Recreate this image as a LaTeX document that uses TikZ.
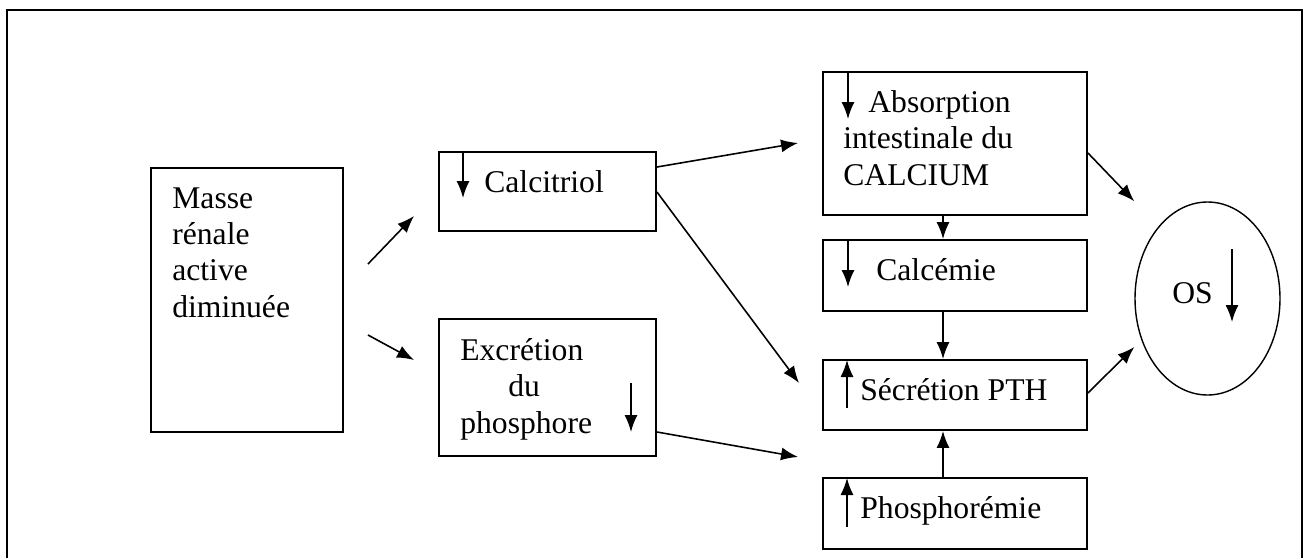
\documentclass[tikz,border=0pt]{standalone}
\usepackage{fontspec}
\setmainfont{Liberation Serif}
\usepackage{tikz}
\usetikzlibrary{arrows.meta, shapes.geometric}

\begin{document}
\begin{tikzpicture}[
                x=0.02cm, y=-0.02cm,
                >={Latex[length=0.34cm, width=0.26cm]},
                font=\fontsize{18}{20.6}\selectfont,
                box/.style 2 args={rectangle, draw, line width=1.1pt, minimum width=#1*0.02cm, minimum height=#2*0.02cm, inner sep=0pt},
                txt/.style={inner sep=0pt, align=left, anchor=base west},
                link/.style={draw, ->, line width=0.9pt},
                trend/.style={draw, ->, line width=0.9pt},
                frame/.style={draw, line width=1.4pt}
            ]
                \useasboundingbox (0,0) rectangle (1309,558);
                \draw[frame] (7,558) -- (7,10) -- (1302,10) -- (1302,558);

                % --- KASTEN LINKS ---
                \node[box={192}{264}] (masse) at (247,300) {};
                \node[txt] (masseT) at (172,317) {Masse\\rénale\\active\\diminuée};

                % --- MITTE ---
                \node[box={217}{79}] (calci) at (547.5,191.5) {};
                \node[txt] (calciT) at (484,192) {Calcitriol};
                \node[box={217}{137}] (excr) at (547.5,387.5) {};
                \node[txt] (excrT) at (460,433) {Excrétion\\\hspace*{0.96cm}du\\phosphore};

                % --- RECHTS ---
                \node[box={264}{143}] (absorp) at (955,143.5) {};
                \node[txt] (absorpT) at (843,185) {\hspace*{0.5cm}Absorption\\intestinale du\\CALCIUM};
                \node[box={264}{71}] (calcem) at (955,275.5) {};
                \node[txt] (calcemT) at (876,280) {Calcémie};
                \node[box={264}{70}] (pth) at (955,395) {};
                \node[txt] (pthT) at (860,400) {Sécrétion PTH};
                \node[box={264}{71}] (phos) at (955,513.5) {};
                \node[txt] (phosT) at (860,518) {Phosphorémie};
                \node[ellipse, draw, line width=0.8pt, minimum width=145*0.02cm, minimum height=193*0.02cm, inner sep=0pt] (os) at (1207.5,298.5) {};
                \node[txt] (osT) at (1172,303) {OS};

                % --- PFEILE IN DEN KAESTEN ---
                \draw[trend] (463,152) -- (463,198);
                \draw[trend] (631,383) -- (631,432);
                \draw[trend] (848,72) -- (848,119);
                \draw[trend] (848,240) -- (848,287);
                \draw[trend] (847,408) -- (847,360);
                \draw[trend] (847,527) -- (847,478);
                \draw[trend] (1232,249) -- (1232,322);

                % --- VERBINDUNGEN ---
                \draw[link] ([shift={(24,-36)}]masse.east) -- ([shift={(-24,24.5)}]calci.west);
                \draw[link] ([shift={(24,35)}]masse.east) -- ([shift={(-24,-27.5)}]excr.west);
                \draw[link] ([shift={(0,-24.5)}]calci.east) -- ([shift={(-24,-0.5)}]absorp.west);
                \draw[link] ([shift={(0,0.5)}]calci.east) -- ([shift={(-23,-12)}]pth.west);
                \draw[link] ([shift={(0,44.5)}]excr.east) -- ([shift={(-24,26)}]pth.south west);
                \draw[link] ([shift={(-12,0)}]absorp.south) -- ([shift={(-12,0)}]calcem.north);
                \draw[link] ([shift={(-12,0)}]calcem.south) -- ([shift={(-12,0)}]pth.north);
                \draw[link] ([shift={(-12,0)}]phos.north) -- ([shift={(-12,0)}]pth.south);
                \draw[link] ([shift={(0,9.5)}]absorp.east) -- (os.west |- os.north);
                \draw[link] ([shift={(0,-2)}]pth.east) -- ([shift={(0,48.5)}]os.west);

            \end{tikzpicture}
\end{document}
